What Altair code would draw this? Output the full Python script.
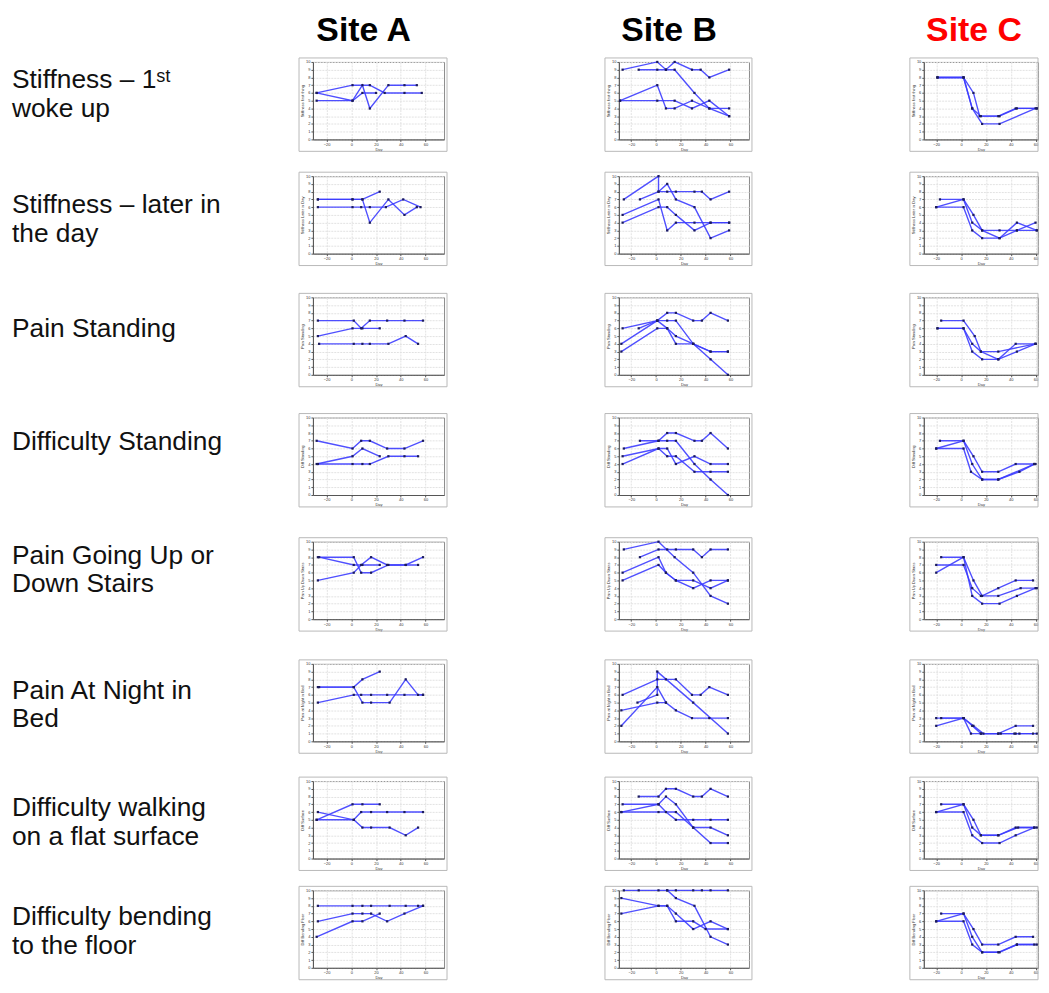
import altair as alt
import pandas as pd

SITES = ["Site A", "Site B", "Site C"]
SITE_COLORS = ["#000000", "#000000", "#ff0000"]
ROW_LABELS = [
    "Stiffness – 1ˢᵗ\nwoke up",
    "Stiffness – later in\nthe day",
    "Pain Standing",
    "Difficulty Standing",
    "Pain Going Up or\nDown Stairs",
    "Pain At Night in\nBed",
    "Difficulty walking\non a flat surface",
    "Difficulty bending\nto the floor",
]
Y_TITLES = [
    "Stiffness first thing", "Stiffness Later in Day", "Pain Standing",
    "Diff Standing", "Pain Up Down Stairs", "Pain at Night in Bed",
    "Diff Surface", "Diff Bending Floor",
]
X_TICKS = [-20, 0, 20, 40, 60]
Y_TICKS = list(range(0, 11))

# ---- Site A ----
A1 = [[(-28, 6), (1, 7), (15, 7), (27, 6), (43, 6), (57, 6)],
      [(-28, 5), (1, 5), (9, 7), (15, 4), (30, 7), (43, 7), (53, 7)],
      [(-28, 6), (1, 5), (9, 6), (20, 6)]]
A2 = [[(-27, 7), (1, 7), (9, 7), (23, 8)],
      [(-27, 6), (1, 6), (8, 6), (15, 6), (28, 6), (42, 7), (56, 6)],
      [(-27, 7), (1, 7), (9, 7), (15, 4), (30, 7), (43, 5), (53, 6)]]
A3 = [[(-27, 7), (2, 7), (8, 6), (15, 7), (29, 7), (43, 7), (58, 7)],
      [(-27, 5), (1, 6), (9, 6), (23, 6)],
      [(-26, 4), (2, 4), (9, 4), (15, 4), (30, 4), (44, 5), (54, 4)]]
A4 = [[(-28, 7), (1, 6), (8, 7), (15, 7), (29, 6), (43, 6), (58, 7)],
      [(-28, 4), (1, 5), (9, 6), (23, 5)],
      [(-27, 4), (1, 4), (9, 4), (15, 4), (30, 5), (43, 5), (54, 5)]]
A5 = [[(-27, 8), (2, 8), (8, 6), (16, 6), (30, 7), (44, 7), (58, 8)],
      [(-26, 8), (2, 7), (9, 7), (23, 7)],
      [(-27, 5), (2, 6), (8, 7), (16, 8), (29, 7), (44, 7), (54, 7)]]
A6 = [[(-27, 7), (2, 7), (9, 8), (23, 9)],
      [(-26, 7), (2, 7), (9, 5), (16, 5), (31, 5), (44, 8), (54, 6), (58, 6)],
      [(-27, 5), (2, 6), (8, 6), (16, 6), (29, 6), (43, 6), (58, 6)]]
A7 = [[(-28, 5), (1, 7), (9, 7), (23, 7)],
      [(-27, 6), (2, 5), (8, 6), (16, 6), (29, 6), (43, 6), (58, 6)],
      [(-28, 5), (2, 5), (9, 4), (16, 4), (31, 4), (44, 3), (54, 4)]]
A8 = [[(-27, 8), (1, 8), (9, 8), (16, 8), (31, 8), (44, 8), (54, 8), (58, 8)],
      [(-27, 6), (1, 7), (9, 7), (16, 7), (29, 6), (43, 7), (58, 8)],
      [(-28, 4), (1, 6), (9, 6), (23, 7)]]

# ---- Site B ----
B1 = [[(-27, 9), (1, 10), (8, 9), (15, 10), (29, 9), (36, 9), (43, 8), (59, 9)],
      [(-14, 9), (1, 9), (8, 9), (15, 9), (31, 6), (43, 4), (59, 3)],
      [(-29, 5), (1, 7), (8, 4), (15, 4), (29, 5), (43, 4), (59, 4)],
      [(-29, 5), (1, 5), (15, 5), (29, 4), (43, 5), (59, 3)]]
B2 = [[(-26, 7), (2, 10), (2, 8), (9, 8), (16, 8), (31, 8), (37, 8), (44, 7), (59, 8)],
      [(-13, 7), (2, 8), (9, 9), (16, 7), (31, 6), (44, 2), (59, 3)],
      [(-27, 5), (2, 7), (9, 3), (16, 4), (31, 4), (44, 4), (59, 4)],
      [(-27, 4), (2, 6), (9, 6), (16, 5), (31, 3), (44, 4), (59, 4)]]
B3 = [[(-27, 6), (1, 7), (9, 8), (16, 8), (30, 7), (37, 7), (44, 8), (58, 7)],
      [(-14, 6), (1, 7), (9, 7), (16, 7), (30, 4), (44, 2), (58, 0)],
      [(-28, 4), (1, 7), (9, 6), (16, 4), (30, 4), (44, 3), (58, 3)],
      [(-28, 3), (1, 6), (9, 6), (16, 5), (30, 4), (44, 3), (58, 3)]]
B4 = [[(-26, 6), (2, 7), (9, 8), (16, 8), (31, 7), (37, 7), (44, 8), (58, 6)],
      [(-13, 7), (2, 7), (9, 7), (16, 7), (31, 4), (44, 2), (58, 0)],
      [(-27, 5), (2, 6), (9, 5), (16, 5), (31, 3), (44, 3), (58, 3)],
      [(-27, 4), (2, 6), (9, 6), (16, 4), (31, 5), (44, 4), (58, 4)]]
B5 = [[(-26, 9), (2, 10), (15, 8), (30, 6), (44, 3), (58, 2)],
      [(-13, 8), (2, 9), (9, 9), (16, 9), (30, 9), (37, 8), (44, 9), (58, 9)],
      [(-27, 6), (2, 8), (8, 6), (16, 5), (30, 5), (44, 4), (58, 5)],
      [(-27, 5), (2, 7), (8, 6), (16, 5), (30, 4), (44, 5), (58, 5)]]
B6 = [[(-27, 6), (1, 8), (8, 8), (16, 8), (29, 6), (36, 6), (43, 7), (58, 6)],
      [(-15, 5), (1, 6), (1, 9), (30, 5), (58, 1)],
      [(-28, 4), (1, 5), (8, 5), (16, 4), (29, 3), (43, 3), (58, 3)],
      [(-28, 2), (1, 7), (8, 5)]]
B7 = [[(-14, 8), (2, 8), (8, 9), (16, 9), (30, 8), (37, 8), (44, 9), (58, 8)],
      [(-27, 7), (2, 7), (8, 8), (16, 7), (30, 4), (44, 2), (58, 2)],
      [(-28, 6), (2, 7), (8, 6), (16, 5), (30, 5), (44, 5), (58, 5)],
      [(-28, 6), (2, 6), (16, 6), (30, 4), (44, 4), (58, 3)]]
B8 = [[(-26, 10), (-14, 10), (2, 10), (9, 10), (16, 10), (30, 10), (37, 10), (44, 10), (58, 10)],
      [(-28, 9), (2, 8), (9, 8), (16, 7), (30, 5), (44, 6), (58, 5)],
      [(-28, 7), (2, 8), (9, 8), (16, 6), (30, 6), (40, 5), (58, 5)],
      [(9, 10), (16, 9), (31, 8), (44, 4), (58, 3)]]

# ---- Site C ----
C1 = [[(-19, 8), (2, 8), (10, 6), (15, 3), (30, 3), (44, 4), (61, 4)],
      [(-19, 8), (2, 8), (9, 4), (16, 3), (31, 3), (45, 4), (61, 4)],
      [(-19, 8), (2, 8), (9, 4), (17, 2), (31, 2), (60, 4)]]
C2 = [[(-17, 7), (2, 7), (10, 5), (17, 3), (31, 2), (45, 4), (61, 3)],
      [(-20, 6), (2, 7), (9, 4), (17, 3), (31, 3), (45, 3), (61, 3)],
      [(-20, 6), (2, 6), (9, 3), (17, 2), (31, 2), (45, 3), (60, 4)]]
C3 = [[(-16, 7), (2, 7), (11, 5), (16, 3), (30, 2), (44, 4), (60, 4)],
      [(-19, 6), (2, 6), (9, 4), (16, 3), (30, 3), (60, 4)],
      [(-19, 6), (2, 6), (9, 3), (17, 2), (30, 2), (45, 3), (60, 4)]]
C4 = [[(-17, 7), (2, 7), (10, 5), (17, 3), (30, 3), (44, 4), (60, 4)],
      [(-20, 6), (2, 7), (9, 4), (17, 2), (30, 2), (47, 3), (59, 4)],
      [(-20, 6), (2, 6), (8, 3), (17, 2), (30, 2), (59, 4)]]
C5 = [[(-16, 8), (2, 8), (10, 5), (17, 3), (30, 4), (44, 5), (58, 5)],
      [(-20, 7), (2, 7), (9, 4), (16, 3), (30, 3), (48, 4), (61, 4)],
      [(-20, 6), (2, 8), (9, 3), (17, 2), (31, 2), (45, 3), (60, 4)]]
C6 = [[(-16, 3), (2, 3), (9, 2), (16, 1), (30, 1), (44, 2), (58, 2)],
      [(-20, 2), (2, 3), (8, 1), (16, 1), (30, 1), (43, 1), (47, 1), (61, 1)],
      [(-20, 3), (2, 3), (10, 2), (18, 1), (32, 1), (44, 1), (58, 1)]]
C7 = [[(-16, 7), (2, 7), (10, 5), (16, 3), (30, 3), (44, 4), (61, 4)],
      [(-20, 6), (2, 7), (9, 4), (16, 3), (30, 3), (46, 4), (59, 4)],
      [(-20, 6), (2, 6), (9, 3), (17, 2), (31, 2), (44, 3), (59, 4)]]
C8 = [[(-16, 7), (2, 7), (10, 5), (17, 3), (30, 3), (44, 4), (58, 4)],
      [(-20, 6), (2, 7), (9, 4), (17, 2), (30, 2), (45, 3), (59, 3)],
      [(-20, 6), (2, 6), (9, 3), (17, 2), (31, 2), (45, 3), (61, 3)]]

PANELS = [
    [A1, B1, C1], [A2, B2, C2], [A3, B3, C3], [A4, B4, C4],
    [A5, B5, C5], [A6, B6, C6], [A7, B7, C7], [A8, B8, C8],
]

# ---- layout / style ----
WIDTHS = [132, 131, 115]
X_DOMAINS = [[-31, 75], [-30, 75], [-30, 62]]
FRAME_RIGHT_PAD = [3, 3, 0]
H = 78
EXTRA = [5, 12, 11, 15, 13, 8, 0, 0]
LABEL_DY = [18, 29, 32, 25, 14, 27, 27, 27]
TITLE_DX = [-15, -15, -7]
LINE_COLOR = "#3c3cff"
POINT_COLOR = "#1b1b5e"
FONT = "Liberation Sans"


def panel(series_list, row, col):
    recs = []
    for s_i, s in enumerate(series_list):
        for p_i, (d, v) in enumerate(s):
            recs.append({"day": d, "score": v, "series": f"s{s_i}", "ord": p_i})
    df = pd.DataFrame(recs)
    w = WIDTHS[col]
    x = alt.X("day:Q", scale=alt.Scale(domain=X_DOMAINS[col], nice=False, zero=False),
              axis=alt.Axis(values=X_TICKS, title="Day"))
    y = alt.Y("score:Q", scale=alt.Scale(domain=[0, 10], nice=False),
              axis=alt.Axis(values=Y_TICKS, title=Y_TITLES[row]))
    base = alt.Chart(df).encode(x=x, y=y)
    lines = base.mark_line(color=LINE_COLOR, strokeWidth=1.4, opacity=0.9).encode(
        detail="series:N", order="ord:Q")
    pts = base.mark_point(shape="square", filled=True, size=5, color=POINT_COLOR, opacity=1)
    frame = alt.Chart(alt.Data(values=[{}])).mark_rect(
        fillOpacity=0, stroke="#b8b8b8", strokeWidth=1).encode(
        x=alt.value(-14), x2=alt.value(w + FRAME_RIGHT_PAD[col]),
        y=alt.value(-4), y2=alt.value(H + 12))
    layers = [frame, lines, pts]
    if col == 0:
        spacer = alt.Chart(alt.Data(values=[{}])).mark_rect(opacity=0).encode(
            x=alt.value(0), x2=alt.value(1), y=alt.value(0),
            y2=alt.value(H + 12 + EXTRA[row]))
        label = alt.Chart(alt.Data(values=[{"t": ROW_LABELS[row]}])).mark_text(
            align="left", baseline="middle", fontSize=26.5, font=FONT,
            lineBreak="\n", lineHeight=29, color="#111111").encode(
            x=alt.value(-303), y=alt.value(LABEL_DY[row]), text="t:N")
        layers += [spacer, label]
    ch = alt.layer(*layers).properties(width=w, height=H)
    if row == 0:
        ch = ch.properties(title=alt.TitleParams(
            text=SITES[col], fontSize=34, fontWeight="bold", font=FONT,
            color=SITE_COLORS[col], anchor="middle", frame="group",
            dx=TITLE_DX[col], offset=-17, baseline="alphabetic"))
    return ch


cells = [panel(PANELS[r][c], r, c) for r in range(8) for c in range(3)]

chart = alt.concat(
    *cells, columns=3, align="each",
    spacing={"row": 14, "column": 157},
).properties(
    padding={"left": 3, "top": 2, "right": 0, "bottom": 0}
).configure_view(
    stroke="#8a8a8a", strokeWidth=1
).configure_axis(
    labelFontSize=4, titleFontSize=4, titleFontWeight="normal",
    tickSize=2, labelPadding=1, titlePadding=1,
    domainColor="#555555", tickColor="#555555", labelColor="#333333",
    titleColor="#333333", gridColor="#e2e2e2", gridDash=[2, 1],
    labelFont=FONT, titleFont=FONT,
)

chart.save("out.html", embed_options={"renderer": "svg", "actions": False})
